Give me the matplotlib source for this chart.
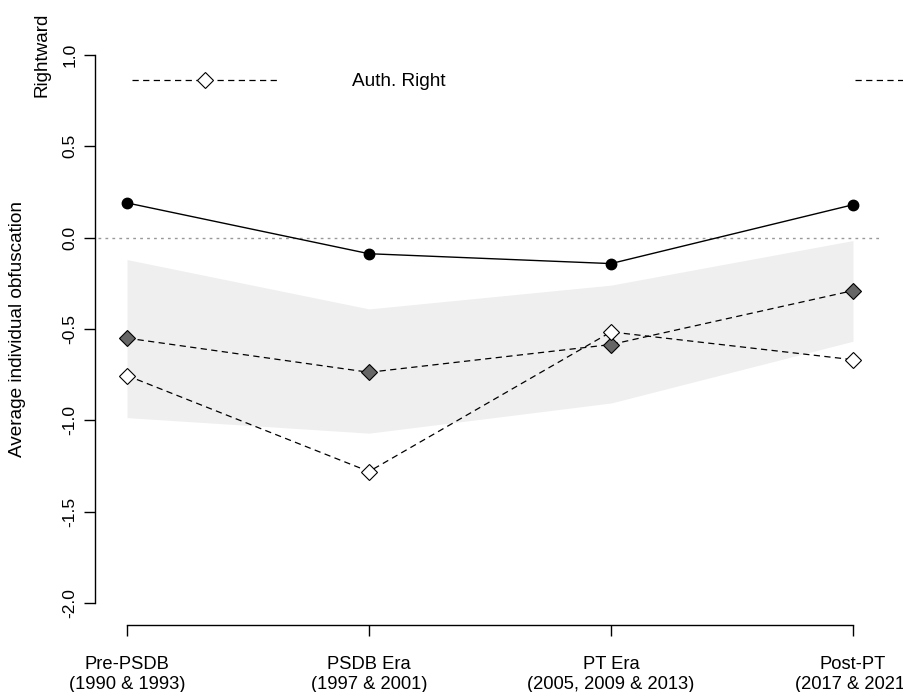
import matplotlib
matplotlib.use("Agg")
import matplotlib.pyplot as plt
from matplotlib.lines import Line2D

plt.rcParams['font.family'] = ['Liberation Sans', 'DejaVu Sans']

periods = ["Pre-PSDB", "PSDB Era", "PT Era", "Post-PT"]
years = ["(1990 & 1993)", "(1997 & 2001)", "(2005, 2009 & 2013)", "(2017 & 2021)"]
xpos = [1, 2, 3, 4]

black_series = [0.19, -0.088, -0.142, 0.18]
gray_series = [-0.55, -0.737, -0.585, -0.29]
white_series = [-0.755, -1.28, -0.516, -0.668]
band_upper = [-0.12, -0.39, -0.26, -0.016]
band_lower = [-0.985, -1.07, -0.905, -0.567]

W, H = 904, 692
fig = plt.figure(figsize=(W / 100, H / 100), dpi=100)
ax = fig.add_axes([98 / W, 1 - 625 / H, (882 - 98) / W, (625 - 33) / H])
ax.set_xlim(0.88, 4.12)
ax.set_ylim(-2.12, 1.12)

ax.fill_between(xpos, band_lower, band_upper, color="#efefef", linewidth=0, zorder=1)
ax.axhline(0, color="#999999", linestyle=(0, (2, 3)), linewidth=1.0, zorder=2)

ax.plot(xpos, black_series, color="black", linewidth=1.0, marker="o",
        markersize=7.5, markerfacecolor="black", zorder=4)
ax.plot(xpos, gray_series, color="black", linewidth=0.9, linestyle=(0, (5, 3.5)),
        marker="D", markersize=8, markerfacecolor="#666666",
        markeredgecolor="black", markeredgewidth=0.8, zorder=4)
ax.plot(xpos, white_series, color="black", linewidth=0.9, linestyle=(0, (5, 3.5)),
        marker="D", markersize=8, markerfacecolor="white",
        markeredgecolor="black", markeredgewidth=0.8, zorder=5)

for s in ["top", "right"]:
    ax.spines[s].set_visible(False)
ax.spines["left"].set_bounds(-2, 1)
ax.spines["bottom"].set_bounds(1, 4)
ax.spines["left"].set_position(("outward", 2))
for s in ["left", "bottom"]:
    ax.spines[s].set_linewidth(1.0)

ax.set_yticks([-2.0, -1.5, -1.0, -0.5, 0.0, 0.5, 1.0])
ax.set_yticklabels(["-2.0", "-1.5", "-1.0", "-0.5", "0.0", "0.5", "1.0"],
                   rotation=90, va="center", fontsize=12.5)
ax.tick_params(axis="y", length=8, width=1.0, pad=5)

ax.set_xticks(xpos)
ax.set_xticklabels([p + "\n" + y for p, y in zip(periods, years)],
                   fontsize=13.2, linespacing=1.2)
ax.tick_params(axis="x", length=8, width=1.0, pad=14.5)

fig.text(18 / W, 1 - 329 / H, "Average individual obfuscation", rotation=90,
         ha="center", va="center", fontsize=13.7)
fig.text(42 / W, 1 - 55 / H, "Rightward", rotation=90,
         ha="center", va="center", fontsize=13.6)

# legend row
ly = 1 - 80 / H
fig.add_artist(Line2D([132 / W, 278 / W], [ly, ly], color="black", linewidth=0.9,
                      linestyle=(0, (5, 3.5))))
fig.add_artist(Line2D([205 / W], [ly], marker="D", markersize=8,
                      markerfacecolor="white", markeredgecolor="black",
                      markeredgewidth=0.8, linestyle="none"))
fig.text(352 / W, 1 - 82 / H, "Auth. Right", ha="left", va="center", fontsize=13.7)
fig.add_artist(Line2D([855 / W, 1.0], [ly, ly], color="black", linewidth=0.9,
                      linestyle=(0, (5, 3.5))))

fig.savefig("out.png", dpi=100)
